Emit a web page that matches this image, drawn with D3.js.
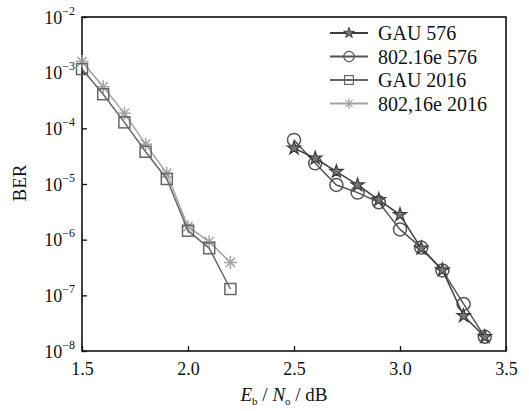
<!DOCTYPE html>
<html>
<head>
<meta charset="utf-8">
<script src="https://cdn.jsdelivr.net/npm/d3@7"></script>
<style>
  body { margin: 0; background: #fff; }
  text { font-family: "Liberation Serif", "DejaVu Serif", serif; fill: #111; }
</style>
</head>
<body>
<div id="wrapper"></div>
<script>
// data
const xGAU576 = [2.5, 2.6, 2.7, 2.8, 2.9, 3.0, 3.1, 3.2, 3.3, 3.4];
const yGAU576 = [4.4e-5, 2.9e-5, 1.67e-5, 9.6e-6, 5.2e-6, 2.8e-6, 7.0e-7, 2.85e-7, 4.3e-8, 1.8e-8];
const x80216e576 = [2.5, 2.6, 2.7, 2.8, 2.9, 3.0, 3.1, 3.2, 3.3, 3.4];
const y80216e576 = [6.2e-5, 2.35e-5, 9.6e-6, 7.0e-6, 4.7e-6, 1.53e-6, 7.2e-7, 2.8e-7, 7.0e-8, 1.8e-8];
const xGAU2016 = [1.5, 1.6, 1.7, 1.8, 1.9, 2.0, 2.1, 2.2];
const yGAU2016 = [1.16e-3, 4.1e-4, 1.28e-4, 3.8e-5, 1.23e-5, 1.45e-6, 7.0e-7, 1.3e-7];
const x80216e2016 = [1.5, 1.6, 1.7, 1.8, 1.9, 2.0, 2.1, 2.2];
const y80216e2016 = [1.58e-3, 5.6e-4, 1.86e-4, 5.2e-5, 1.56e-5, 1.71e-6, 9.2e-7, 3.9e-7];

const xTicks = [1.5, 2.0, 2.5, 3.0, 3.5];
const yExponents = [-2, -3, -4, -5, -6, -7, -8];

const seriesNames = ["GAU 576", "802.16e 576", "GAU 2016", "802,16e 2016"];

const series = [
  { name: seriesNames[0], xs: xGAU576, ys: yGAU576, color: "#3c3c3c", marker: "star" },
  { name: seriesNames[1], xs: x80216e576, ys: y80216e576, color: "#555555", marker: "circle" },
  { name: seriesNames[2], xs: xGAU2016, ys: yGAU2016, color: "#666666", marker: "square" },
  { name: seriesNames[3], xs: x80216e2016, ys: y80216e2016, color: "#a3a3a3", marker: "asterisk" },
];

const dimensions = {
  width: 529,
  height: 411,
  margin: { top: 17, right: 23, bottom: 60, left: 82 },
};
dimensions.boundedWidth = dimensions.width - dimensions.margin.left - dimensions.margin.right;
dimensions.boundedHeight = dimensions.height - dimensions.margin.top - dimensions.margin.bottom;

const wrapper = d3.select("#wrapper")
  .append("svg")
  .attr("width", dimensions.width)
  .attr("height", dimensions.height);

const bounds = wrapper.append("g")
  .attr("transform", `translate(${dimensions.margin.left},${dimensions.margin.top})`);

const xScale = d3.scaleLinear().domain([1.5, 3.5]).range([0, dimensions.boundedWidth]);
const yScale = d3.scaleLog().domain([1e-8, 1e-2]).range([dimensions.boundedHeight, 0]);

// axes (ticks pointing inward)
const xAxis = bounds.append("g")
  .attr("transform", `translate(0,${dimensions.boundedHeight})`)
  .call(d3.axisBottom(xScale).tickValues(xTicks).tickSizeInner(-5).tickSizeOuter(0)
    .tickPadding(11).tickFormat(d3.format(".1f")));
xAxis.select(".domain").remove();
xAxis.selectAll("line").attr("stroke", "#111").attr("stroke-width", 1.3);
xAxis.selectAll("text").attr("font-size", 18).attr("font-family", "Liberation Serif").attr("fill", "#111");

const yAxis = bounds.append("g")
  .call(d3.axisLeft(yScale).tickValues(yExponents.map(e => Math.pow(10, e)))
    .tickSizeInner(-5).tickSizeOuter(0).tickPadding(14).tickFormat(""));
yAxis.select(".domain").remove();
yAxis.selectAll("line").attr("stroke", "#111").attr("stroke-width", 1.3);

// y tick labels 10^n
yAxis.selectAll(".tick").each(function (d) {
  const e = Math.round(Math.log10(d));
  const t = d3.select(this).select("text")
    .attr("font-size", 18)
    .attr("font-family", "Liberation Serif")
    .attr("fill", "#111")
    .attr("x", -7)
    .attr("dy", "0.35em")
    .text("10");
  t.append("tspan")
    .attr("font-size", 12)
    .attr("dy", "-0.75em")
    .text("\u2212" + Math.abs(e));
});

// frame
bounds.append("rect")
  .attr("width", dimensions.boundedWidth)
  .attr("height", dimensions.boundedHeight)
  .attr("fill", "none")
  .attr("stroke", "#111")
  .attr("stroke-width", 1.6);

// marker drawing
const starPath = d3.symbol().type(d3.symbolStar).size(55)();
const asteriskPath = (() => {
  const r = 6.5;
  let p = "";
  for (let i = 0; i < 4; i++) {
    const a = (i * Math.PI) / 4;
    const dx = r * Math.cos(a), dy = r * Math.sin(a);
    p += `M${-dx},${-dy}L${dx},${dy}`;
  }
  return p;
})();

function drawMarker(g, type, color) {
  if (type === "star") {
    g.append("path").attr("d", starPath).attr("fill", "#777").attr("stroke", color).attr("stroke-width", 1.2);
  } else if (type === "circle") {
    g.append("circle").attr("r", 6.5).attr("fill", "none").attr("stroke", color).attr("stroke-width", 1.5);
  } else if (type === "square") {
    g.append("rect").attr("x", -5.5).attr("y", -5.5).attr("width", 11).attr("height", 11)
      .attr("fill", "none").attr("stroke", color).attr("stroke-width", 1.5);
  } else {
    g.append("path").attr("d", asteriskPath).attr("fill", "none").attr("stroke", color).attr("stroke-width", 1.5);
  }
}

const lineGenerator = d3.line()
  .x(d => xScale(d[0]))
  .y(d => yScale(d[1]));

// draw the light series first so darker ones stay on top
[3, 2, 1, 0].forEach(i => {
  const s = series[i];
  const pts = s.xs.map((x, j) => [x, s.ys[j]]);
  bounds.append("path")
    .attr("d", lineGenerator(pts))
    .attr("fill", "none")
    .attr("stroke", s.color)
    .attr("stroke-width", 1.5);
  pts.forEach(p => {
    const g = bounds.append("g")
      .attr("transform", `translate(${xScale(p[0])},${yScale(p[1])})`);
    drawMarker(g, s.marker, s.color);
  });
});

// legend
const legend = wrapper.append("g").attr("transform", "translate(330,33)");
series.forEach((s, i) => {
  const row = legend.append("g").attr("transform", `translate(0,${i * 23.5})`);
  row.append("line").attr("x1", 0).attr("x2", 38).attr("stroke", s.color).attr("stroke-width", 1.8);
  const m = row.append("g");
  drawMarker(m, s.marker, s.color);
  m.attr("transform", "translate(19,0) scale(0.8)");
  row.append("text")
    .attr("x", 48)
    .attr("dy", "0.35em")
    .attr("font-size", 20)
    .text(s.name);
});

// axis titles
wrapper.append("text")
  .attr("transform", "translate(26,183) rotate(-90)")
  .attr("text-anchor", "middle")
  .attr("font-size", 19)
  .text("BER");

const xLabel = wrapper.append("text")
  .attr("x", 284)
  .attr("y", 401)
  .attr("text-anchor", "middle")
  .attr("font-size", 19);
xLabel.append("tspan").attr("font-style", "italic").text("E");
xLabel.append("tspan").attr("font-size", 11).attr("dy", 4).text("b");
xLabel.append("tspan").attr("dy", -4).text(" / ");
xLabel.append("tspan").attr("font-style", "italic").text("N");
xLabel.append("tspan").attr("font-size", 11).attr("dy", 4).text("o");
xLabel.append("tspan").attr("dy", -4).text(" / dB");
</script>
</body>
</html>
